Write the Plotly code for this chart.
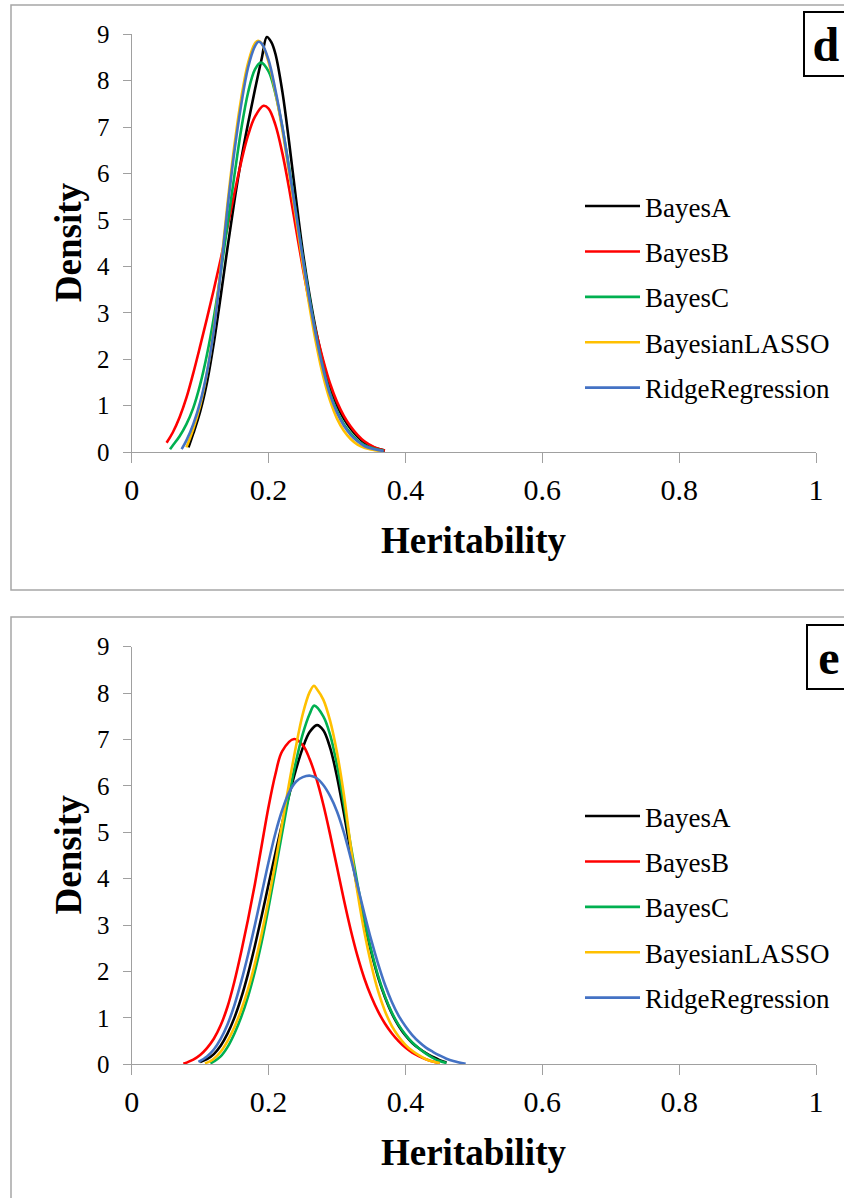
import plotly.graph_objects as go

# ---- panel d: posterior density of heritability ----
D_BAYESA_H = [0.083, 0.09, 0.10, 0.11, 0.12, 0.13, 0.14, 0.15, 0.16, 0.17, 0.18, 0.19, 0.1975,
              0.204, 0.21, 0.22, 0.23, 0.24, 0.25, 0.26, 0.27, 0.28, 0.29, 0.30, 0.31, 0.32, 0.33, 0.34, 0.355, 0.37]
D_BAYESA_Y = [0.1, 0.4, 0.87, 1.5, 2.35, 3.35, 4.4, 5.4, 6.3, 7.08, 7.8, 8.48, 8.94,
              8.83, 8.58, 7.78, 6.68, 5.47, 4.32, 3.37, 2.57, 1.92, 1.4, 1.01, 0.72, 0.5, 0.33, 0.2, 0.09, 0.03]

D_BAYESB_H = [0.051, 0.06, 0.07, 0.08, 0.09, 0.10, 0.11, 0.12, 0.13, 0.14, 0.15, 0.16, 0.17, 0.18, 0.1926,
              0.20, 0.21, 0.22, 0.23, 0.24, 0.25, 0.26, 0.27, 0.28, 0.29, 0.30, 0.31, 0.32, 0.33, 0.34, 0.355, 0.37]
D_BAYESB_Y = [0.2, 0.42, 0.75, 1.17, 1.7, 2.28, 2.88, 3.5, 4.15, 4.85, 5.57, 6.25, 6.82, 7.22, 7.46,
              7.4, 7.05, 6.45, 5.68, 4.82, 3.97, 3.2, 2.55, 1.97, 1.47, 1.08, 0.78, 0.55, 0.37, 0.23, 0.1, 0.03]

D_BAYESC_H = [0.056, 0.06, 0.07, 0.08, 0.09, 0.10, 0.11, 0.12, 0.13, 0.14, 0.15, 0.16, 0.17, 0.18, 0.1888,
              0.20, 0.21, 0.22, 0.23, 0.24, 0.25, 0.26, 0.27, 0.28, 0.29, 0.30, 0.31, 0.32, 0.33, 0.34, 0.355, 0.368]
D_BAYESC_Y = [0.06, 0.14, 0.34, 0.6, 0.95, 1.45, 2.1, 2.9, 3.85, 4.9, 5.95, 6.95, 7.74, 8.24, 8.39,
              8.2, 7.72, 7.01, 6.13, 5.17, 4.19, 3.29, 2.48, 1.8, 1.26, 0.88, 0.6, 0.4, 0.25, 0.15, 0.07, 0.03]

D_LASSO_H = [0.080, 0.09, 0.10, 0.11, 0.12, 0.13, 0.14, 0.15, 0.16, 0.17, 0.18, 0.1846,
             0.19, 0.20, 0.21, 0.22, 0.23, 0.24, 0.25, 0.26, 0.27, 0.28, 0.29, 0.30, 0.31, 0.32, 0.33, 0.34, 0.355, 0.365]
D_LASSO_Y = [0.10, 0.5, 1.0, 1.7, 2.65, 3.95, 5.35, 6.6, 7.62, 8.38, 8.8, 8.86,
             8.8, 8.4, 7.75, 6.95, 6.02, 5.05, 4.05, 3.12, 2.3, 1.62, 1.1, 0.72, 0.46, 0.28, 0.16, 0.09, 0.04, 0.02]

D_RIDGE_H = [0.073, 0.08, 0.09, 0.10, 0.11, 0.12, 0.13, 0.14, 0.15, 0.16, 0.17, 0.18, 0.1853,
             0.19, 0.20, 0.21, 0.22, 0.23, 0.24, 0.25, 0.26, 0.27, 0.28, 0.29, 0.30, 0.31, 0.32, 0.33, 0.34, 0.355, 0.368]
D_RIDGE_Y = [0.06, 0.25, 0.6, 1.07, 1.72, 2.62, 3.88, 5.25, 6.47, 7.48, 8.28, 8.74, 8.84,
             8.8, 8.45, 7.8, 7.02, 6.1, 5.15, 4.17, 3.26, 2.45, 1.77, 1.23, 0.85, 0.57, 0.37, 0.23, 0.13, 0.06, 0.02]

# ---- panel e ----
E_BAYESA_H = [0.10, 0.11, 0.12, 0.13, 0.14, 0.15, 0.16, 0.17, 0.18, 0.19, 0.20, 0.21, 0.22, 0.23, 0.24, 0.25, 0.26, 0.2707,
              0.28, 0.29, 0.30, 0.31, 0.32, 0.33, 0.34, 0.35, 0.36, 0.37, 0.38, 0.39, 0.40, 0.41, 0.42, 0.43, 0.44, 0.45, 0.46]
E_BAYESA_Y = [0.05, 0.11, 0.22, 0.4, 0.66, 1.0, 1.43, 1.95, 2.55, 3.2, 3.88, 4.55, 5.2, 5.8, 6.35, 6.82, 7.16, 7.31,
              7.2, 6.82, 6.2, 5.42, 4.58, 3.78, 3.05, 2.42, 1.88, 1.45, 1.1, 0.83, 0.62, 0.46, 0.34, 0.24, 0.16, 0.09, 0.04]

E_BAYESB_H = [0.0755, 0.09, 0.10, 0.11, 0.12, 0.13, 0.14, 0.15, 0.16, 0.17, 0.18, 0.19, 0.20, 0.21, 0.22, 0.2375,
              0.25, 0.26, 0.27, 0.28, 0.29, 0.30, 0.31, 0.32, 0.33, 0.34, 0.35, 0.36, 0.37, 0.38, 0.39, 0.40, 0.41,
              0.42, 0.43, 0.44, 0.45]
E_BAYESB_Y = [0.01, 0.1, 0.2, 0.35, 0.55, 0.84, 1.24, 1.78, 2.42, 3.12, 3.88, 4.72, 5.55, 6.25, 6.75, 7.01,
              6.88, 6.58, 6.15, 5.6, 4.95, 4.25, 3.55, 2.9, 2.33, 1.85, 1.46, 1.14, 0.88, 0.67, 0.5, 0.36, 0.25,
              0.17, 0.11, 0.06, 0.03]

E_BAYESC_H = [0.115, 0.12, 0.13, 0.14, 0.15, 0.16, 0.17, 0.18, 0.19, 0.20, 0.21, 0.22, 0.23, 0.24, 0.25, 0.26, 0.2668,
              0.28, 0.29, 0.30, 0.31, 0.32, 0.33, 0.34, 0.35, 0.36, 0.37, 0.38, 0.39, 0.40, 0.41, 0.42, 0.43, 0.44, 0.45, 0.46]
E_BAYESC_Y = [0.02, 0.06, 0.17, 0.37, 0.66, 1.02, 1.46, 2.0, 2.64, 3.38, 4.18, 5.0, 5.8, 6.52, 7.12, 7.55, 7.73,
              7.5, 7.1, 6.45, 5.62, 4.72, 3.88, 3.12, 2.46, 1.91, 1.47, 1.12, 0.85, 0.64, 0.47, 0.34, 0.23, 0.14, 0.07, 0.03]

E_LASSO_H = [0.107, 0.115, 0.12, 0.13, 0.14, 0.15, 0.16, 0.17, 0.18, 0.19, 0.20, 0.21, 0.22, 0.23, 0.24, 0.25, 0.26, 0.2663,
             0.27, 0.28, 0.29, 0.30, 0.31, 0.32, 0.33, 0.34, 0.35, 0.36, 0.37, 0.38, 0.39, 0.40, 0.41, 0.42, 0.43, 0.44, 0.45]
E_LASSO_Y = [0.02, 0.07, 0.12, 0.27, 0.5, 0.8, 1.17, 1.62, 2.17, 2.82, 3.55, 4.35, 5.2, 6.05, 6.85, 7.55, 8.02, 8.16,
             8.1, 7.86, 7.4, 6.72, 5.82, 4.7, 3.7, 2.85, 2.15, 1.58, 1.15, 0.83, 0.6, 0.42, 0.29, 0.19, 0.11, 0.06, 0.03]

E_RIDGE_H = [0.0975, 0.11, 0.12, 0.13, 0.14, 0.15, 0.16, 0.17, 0.18, 0.19, 0.20, 0.21, 0.22, 0.23, 0.24, 0.25, 0.261,
             0.27, 0.28, 0.29, 0.30, 0.31, 0.32, 0.33, 0.34, 0.35, 0.36, 0.37, 0.38, 0.39, 0.40, 0.41, 0.42,
             0.43, 0.44, 0.45, 0.46, 0.47, 0.488]
E_RIDGE_Y = [0.05, 0.17, 0.32, 0.55, 0.86, 1.27, 1.78, 2.36, 3.0, 3.68, 4.36, 4.98, 5.48, 5.86, 6.09, 6.19, 6.22,
             6.17, 6.02, 5.78, 5.45, 5.0, 4.45, 3.85, 3.25, 2.68, 2.17, 1.72, 1.35, 1.05, 0.82, 0.63, 0.48,
             0.36, 0.27, 0.19, 0.12, 0.07, 0.01]

METHODS = ["BayesA", "BayesB", "BayesC", "BayesianLASSO", "RidgeRegression"]
COLORS = ["#000000", "#FF0000", "#00B050", "#FFC000", "#4472C4"]
PANEL_LABELS = ["d", "e"]
X_TICKS = [0, 0.2, 0.4, 0.6, 0.8, 1]
X_TICK_TEXT = ["0", "0.2", "0.4", "0.6", "0.8", "1"]
Y_TICKS = [0, 1, 2, 3, 4, 5, 6, 7, 8, 9]

PANELS = [
    [(D_BAYESA_H, D_BAYESA_Y), (D_BAYESB_H, D_BAYESB_Y), (D_BAYESC_H, D_BAYESC_Y),
     (D_LASSO_H, D_LASSO_Y), (D_RIDGE_H, D_RIDGE_Y)],
    [(E_BAYESA_H, E_BAYESA_Y), (E_BAYESB_H, E_BAYESB_Y), (E_BAYESC_H, E_BAYESC_Y),
     (E_LASSO_H, E_LASSO_Y), (E_RIDGE_H, E_RIDGE_Y)],
]

W, H = 844, 1198
SERIF = "Liberation Serif, Times New Roman, serif"
AXIS_GREY = "#A0A0A0"


def fx(px):
    return px / W


def fy(px):
    return 1 - px / H


# pixel geometry of each panel: (top of frame, bottom of frame, y=9 row, y=0 row)
FRAMES = [(5, 590, 34.3, 452.0), (617, 1205, 646.7, 1064.3)]
LEGEND_TOP = [182, 792]

fig = go.Figure()

for p, series in enumerate(PANELS):
    sfx = "" if p == 0 else "2"
    for (hx, dy), name, col in zip(series, METHODS, COLORS):
        fig.add_trace(go.Scatter(
            x=hx, y=dy, mode="lines", name=name,
            line=dict(color=col, width=2.6, shape="spline", smoothing=1.0),
            xaxis="x" + sfx, yaxis="y" + sfx,
            legend="legend" + sfx, legendgroup=f"{PANEL_LABELS[p]}-{name}",
            hoverinfo="skip",
        ))

axis_common = dict(
    showline=True, linecolor=AXIS_GREY, linewidth=1.3, showgrid=False, zeroline=False,
    ticks="outside", tickcolor=AXIS_GREY, tickwidth=1.3, fixedrange=True, automargin=False,
)

layout = dict(
    width=W, height=H, margin=dict(l=0, r=0, t=0, b=0, pad=0, autoexpand=False),
    paper_bgcolor="white", plot_bgcolor="white",
    font=dict(family=SERIF, color="black"),
    showlegend=True,
)

for p in range(2):
    sfx = "" if p == 0 else "2"
    top, bot, y9, y0 = FRAMES[p]
    layout["xaxis" + sfx] = dict(
        axis_common, domain=[fx(131.7), fx(816.0)], range=[0, 1], anchor="y" + sfx,
        tickvals=X_TICKS, ticktext=X_TICK_TEXT, ticklen=10,
        tickfont=dict(family=SERIF, size=30, color="black"), ticklabelstandoff=1,
    )
    layout["yaxis" + sfx] = dict(
        axis_common, domain=[fy(y0), fy(y9)], range=[0, 9], anchor="x" + sfx,
        tickvals=Y_TICKS, ticklen=8,
        tickfont=dict(family=SERIF, size=25, color="black"), ticklabelstandoff=8,
    )
    layout["legend" + sfx] = dict(
        x=fx(580), y=fy(LEGEND_TOP[p]), xanchor="left", yanchor="top",
        font=dict(family=SERIF, size=27, color="black"),
        bgcolor="rgba(0,0,0,0)", borderwidth=0, itemwidth=55,
        tracegroupgap=7.3, itemclick=False, itemdoubleclick=False,
    )

fig.update_layout(**layout)

shapes = []
annotations = []
for p in range(2):
    top, bot, y9, y0 = FRAMES[p]
    # outer frame around each panel
    shapes.append(dict(type="rect", xref="paper", yref="paper",
                       x0=fx(11), x1=fx(860), y0=fy(bot), y1=fy(top),
                       line=dict(color="#A6A6A6", width=1.5), fillcolor="rgba(0,0,0,0)", layer="below"))
    mid = (y9 + y0) / 2
    annotations.append(dict(text="<b>Density</b>", xref="paper", yref="paper",
                            x=fx(68), y=fy(mid - 1), textangle=-90, showarrow=False,
                            xanchor="center", yanchor="middle",
                            font=dict(family=SERIF, size=37, color="black")))
    annotations.append(dict(text="<b>Heritability</b>", xref="paper", yref="paper",
                            x=fx(473.5), y=fy(y0 + 88), showarrow=False,
                            xanchor="center", yanchor="middle",
                            font=dict(family=SERIF, size=37, color="black")))
    annotations.append(dict(text=f"<b>{PANEL_LABELS[p]}</b>", xref="paper", yref="paper",
                            x=fx(803 + (3 if p else 0)), y=fy(top + 6 + (1 if p else 0)), showarrow=False,
                            xanchor="left", yanchor="top", width=36, height=56, borderpad=3,
                            bordercolor="black", borderwidth=2, bgcolor="white",
                            font=dict(family=SERIF, size=48, color="black")))

fig.update_layout(shapes=shapes, annotations=annotations)

fig.write_html(
    "out.html",
    post_script="document.body.style.margin='0';document.body.style.overflow='hidden';",
)
